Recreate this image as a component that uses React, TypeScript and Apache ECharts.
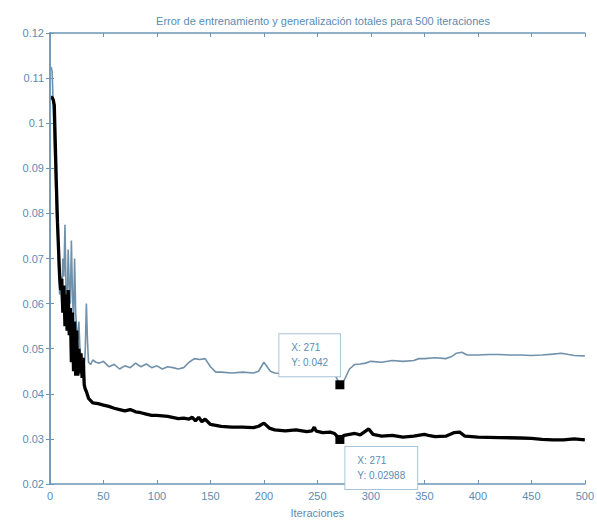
import React, { useEffect, useRef } from "react";
import * as echarts from "echarts";

const titleText = "Error de entrenamiento y generalización totales para 500 iteraciones";
const xAxisName = "Iteraciones";

const genX = [1, 2, 3, 4, 5, 6, 7, 8, 9, 10, 11, 12, 13, 14, 15, 16, 17, 18, 19, 20, 21, 22, 23, 24, 25, 26, 27, 28, 29, 30, 31, 32, 33, 34, 35, 36, 38, 40, 43, 46, 50, 55, 60, 65, 70, 75, 80, 85, 90, 95, 100, 105, 110, 115, 120, 125, 130, 135, 140, 145, 150, 155, 160, 170, 180, 190, 195, 200, 203, 206, 210, 220, 230, 240, 250, 260, 265, 268, 271, 275, 280, 285, 290, 295, 300, 310, 320, 330, 340, 345, 350, 360, 370, 375, 380, 385, 390, 400, 410, 420, 430, 440, 450, 460, 470, 478, 485, 490, 500];
const genY = [0.1125, 0.1115, 0.104, 0.095, 0.088, 0.08, 0.076, 0.068, 0.062, 0.066, 0.06, 0.07, 0.066, 0.0775, 0.063, 0.058, 0.072, 0.064, 0.06, 0.074, 0.062, 0.056, 0.07, 0.058, 0.054, 0.052, 0.056, 0.05, 0.048, 0.046, 0.047, 0.045, 0.05, 0.06, 0.052, 0.047, 0.0465, 0.0475, 0.047, 0.0468, 0.0472, 0.046, 0.0465, 0.0455, 0.0462, 0.0458, 0.0468, 0.046, 0.0466, 0.0458, 0.0462, 0.0455, 0.046, 0.0458, 0.0455, 0.0458, 0.047, 0.0478, 0.0476, 0.0478, 0.046, 0.0448, 0.0448, 0.0446, 0.0448, 0.0446, 0.045, 0.047, 0.046, 0.045, 0.0446, 0.0444, 0.0446, 0.0442, 0.0444, 0.0446, 0.0446, 0.0435, 0.042, 0.043, 0.0455, 0.0465, 0.0466, 0.0468, 0.0472, 0.047, 0.0474, 0.0472, 0.0474, 0.0478, 0.0478, 0.048, 0.0478, 0.0482, 0.049, 0.0492, 0.0486, 0.0486, 0.0487, 0.0487, 0.0486, 0.0486, 0.0485, 0.0486, 0.0488, 0.049, 0.0487, 0.0485, 0.0484];

const trainX = [1, 2, 3, 4, 5, 6, 7, 8, 9, 10, 11, 12, 13, 14, 15, 16, 17, 18, 19, 20, 21, 22, 23, 24, 25, 26, 27, 28, 29, 30, 31, 32, 33, 34, 36, 38, 40, 45, 50, 55, 60, 65, 70, 75, 80, 85, 90, 95, 100, 110, 120, 125, 130, 133, 136, 139, 142, 145, 150, 160, 170, 180, 190, 195, 200, 205, 210, 220, 230, 240, 245, 247, 249, 255, 262, 266, 271, 275, 280, 285, 290, 298, 302, 310, 320, 330, 340, 350, 355, 360, 370, 378, 383, 388, 400, 420, 440, 450, 460, 470, 480, 490, 500];
const trainY = [0.1057, 0.1057, 0.1052, 0.104, 0.095, 0.086, 0.078, 0.072, 0.066, 0.063, 0.0655, 0.058, 0.064, 0.055, 0.062, 0.054, 0.063, 0.053, 0.059, 0.047, 0.058, 0.045, 0.056, 0.044, 0.054, 0.044, 0.05, 0.0445, 0.049, 0.0435, 0.048, 0.042, 0.041, 0.0405, 0.039, 0.0385, 0.038, 0.0378, 0.0375, 0.0372, 0.0368, 0.0365, 0.0362, 0.0365, 0.036, 0.0358, 0.0355, 0.0352, 0.0352, 0.035, 0.0345, 0.0346, 0.0344, 0.0348, 0.034, 0.0348, 0.0338, 0.0344, 0.0332, 0.0328, 0.0326, 0.0326, 0.0325, 0.0328, 0.0335, 0.0324, 0.032, 0.0318, 0.032, 0.0316, 0.0318, 0.0326, 0.0317, 0.0314, 0.0315, 0.0312, 0.02988, 0.0308, 0.031, 0.0312, 0.0309, 0.0322, 0.031, 0.0306, 0.0308, 0.0304, 0.0306, 0.031, 0.0307, 0.0305, 0.0306, 0.0314, 0.0315, 0.0306, 0.0304, 0.0303, 0.0302, 0.0301, 0.0299, 0.0298, 0.0298, 0.03, 0.0298];

const tipX = [271, 271];
const tipY = [0.042, 0.02988];

const AXIS = "#6b96b8";
const TXT = "#5b8cb3";
const FONT = "Liberation Sans, Arial, sans-serif";

export default function App() {
  const ref = useRef<HTMLDivElement>(null);
  useEffect(() => {
    if (!ref.current) return;
    const chart = echarts.init(ref.current, undefined, { renderer: "svg" });
    const gen = genX.map((x, i) => [x, genY[i]]);
    const train = trainX.map((x, i) => [x, trainY[i]]);
    const axisCommon = {
      type: "value" as const,
      axisLine: { show: true, lineStyle: { color: AXIS, width: 1.5 } },
      axisTick: { show: true, inside: true, length: 4, lineStyle: { color: AXIS } },
      splitLine: { show: false },
    };
    chart.setOption({
      animation: false,
      backgroundColor: "#ffffff",
      title: {
        text: titleText,
        left: 318,
        textAlign: "center",
        top: 10,
        textStyle: { color: TXT, fontSize: 11, fontWeight: "normal", fontFamily: FONT },
      },
      grid: { left: 50, right: 10, top: 33, bottom: 38 },
      xAxis: [
        {
          ...axisCommon,
          min: 0,
          max: 500,
          interval: 50,
          position: "bottom",
          name: xAxisName,
          nameLocation: "middle",
          nameGap: 23,
          nameTextStyle: { color: TXT, fontSize: 11, fontFamily: FONT },
          axisLabel: { color: TXT, fontSize: 11, fontFamily: FONT, margin: 6 },
        },
        {
          ...axisCommon,
          min: 0,
          max: 500,
          interval: 50,
          position: "top",
          axisLabel: { show: false },
        },
      ],
      yAxis: [
        {
          ...axisCommon,
          min: 0.02,
          max: 0.12,
          interval: 0.01,
          position: "left",
          axisLabel: {
            color: TXT,
            fontSize: 11,
            fontFamily: FONT,
            margin: 6,
            formatter: (v: number) => String(parseFloat(v.toFixed(2))),
          },
        },
        {
          ...axisCommon,
          min: 0.02,
          max: 0.12,
          interval: 0.01,
          position: "right",
          axisLabel: { show: false },
        },
      ],
      series: [
        {
          type: "line",
          name: "Generalización",
          data: gen,
          symbol: "none",
          lineStyle: { color: "#7191aa", width: 1.6 },
          z: 2,
        },
        {
          type: "line",
          name: "Entrenamiento",
          data: train,
          symbol: "none",
          lineStyle: { color: "#000000", width: 3.3 },
          z: 3,
        },
        {
          type: "scatter",
          data: [
            {
              value: [tipX[0], tipY[0]],
              label: {
                show: true,
                position: [-56, -46],
                formatter: `X: ${tipX[0]}\nY: ${tipY[0]}`,
              },
            },
            {
              value: [tipX[1], tipY[1]],
              label: {
                show: true,
                position: [10, 12],
                formatter: `X: ${tipX[1]}\nY: ${tipY[1]}`,
              },
            },
          ],
          symbol: "rect",
          symbolSize: 9,
          itemStyle: { color: "#000000", opacity: 1 },
          label: {
            color: TXT,
            fontSize: 10,
            fontFamily: FONT,
            lineHeight: 15,
            align: "left",
            backgroundColor: "#ffffff",
            borderColor: "#a9c4d8",
            borderWidth: 1,
            padding: [6, 12, 6, 12],
          },
          z: 5,
        },
      ],
    });
    return () => chart.dispose();
  }, []);
  return (
    <div
      ref={ref}
      style={{ position: "fixed", left: 0, top: 0, width: 597, height: 523 }}
    />
  );
}
